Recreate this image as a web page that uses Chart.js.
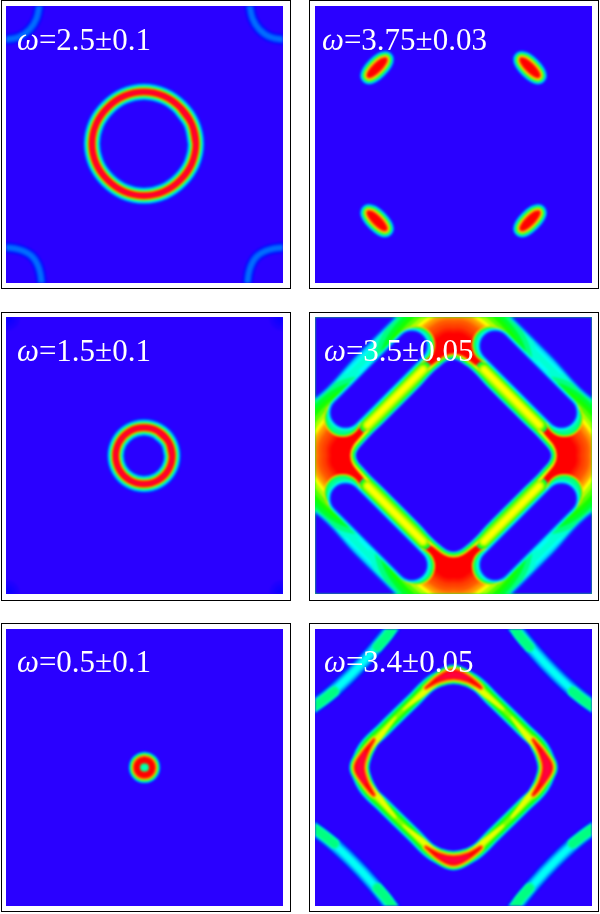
<!DOCTYPE html>
<html><head><meta charset="utf-8">
<script src="https://cdn.jsdelivr.net/npm/chart.js@4"></script>
<style>
html,body{margin:0;padding:0;background:#fff;width:600px;height:914px;overflow:hidden}
.frame{position:absolute;box-sizing:border-box;border:1px solid #000;width:289.5px;height:289px;background:#fff}
.plot{position:absolute;width:277px;height:277px;overflow:hidden}
.plot canvas{display:block;filter:blur(.8px)}
.lab{position:absolute;color:#fff;font:31px "Liberation Serif",serif;white-space:nowrap;line-height:1}
.lab i{font-style:italic}
</style></head><body>
<script>
// Titles
const LABELS=["2.5±0.1","3.75±0.03","1.5±0.1","3.5±0.05","0.5±0.1","3.4±0.05"];

// --- contours, in zone units (-100..100) ---
const RING_25=[[37.1,0.5],[34.1,14.8],[25.8,26.7],[13.9,35],[-0.4,38],[-14.7,35],[-26.6,26.7],[-34.9,14.8],[-37.9,0.5],[-34.9,-13.8],[-26.6,-25.7],[-14.7,-34],[-0.4,-37],[13.9,-34],[25.8,-25.7],[34.1,-13.8],[37.1,0.5],[34.1,14.8],[25.8,26.7]];
const ARC25_NW=[[-103,75.5],[-91,77.5],[-83,83],[-78,91],[-75.5,103]];
const ARC25_NE=[[103,75.5],[91,77.5],[83,83],[78,91],[75.5,103]];
const ARC25_SW=[[-103,-74],[-90,-76],[-81,-81],[-76,-90],[-74,-103]];
const ARC25_SE=[[103,-74],[90,-76],[81,-81],[76,-90],[74,-103]];

const POCKET_NW=[[-48.9,61.8],[-51.95,61.15],[-56.9,57.2],[-60.85,52.25],[-61.5,49.2],[-58.45,49.85],[-53.5,53.8],[-49.55,58.75],[-48.9,61.8],[-51.95,61.15]];
const POCKET_NE=[[48.9,61.8],[51.95,61.15],[56.9,57.2],[60.85,52.25],[61.5,49.2],[58.45,49.85],[53.5,53.8],[49.55,58.75],[48.9,61.8],[51.95,61.15]];
const POCKET_SE=[[61.5,-48.7],[58.45,-49.35],[53.5,-53.3],[49.55,-58.25],[48.9,-61.3],[51.95,-60.65],[56.9,-56.7],[60.85,-51.75],[61.5,-48.7],[58.45,-49.35]];
const POCKET_SW=[[-61.5,-48.7],[-58.45,-49.35],[-53.5,-53.3],[-49.55,-58.25],[-48.9,-61.3],[-51.95,-60.65],[-56.9,-56.7],[-60.85,-51.75],[-61.5,-48.7],[-58.45,-49.35]];

const RING_15=[[20,-0.2],[17.3,10],[9.8,17.5],[-0.4,20.2],[-10.6,17.5],[-18.1,10],[-20.8,-0.2],[-18.1,-10.4],[-10.6,-17.9],[-0.4,-20.6],[9.8,-17.9],[17.3,-10.4],[20,-0.2],[17.3,10],[9.8,17.5]];
const GLOW_NW=[[-100,100],[-99,99]];
const GLOW_NE=[[100,100],[99,99]];
const GLOW_SW=[[-100,-100],[-99,-99]];
const GLOW_SE=[[100,-100],[99,-99]];

const RING_05=[[5.5,0],[3.9,3.9],[0,5.5],[-3.9,3.9],[-5.5,0],[-3.9,-3.9],[0,-5.5],[3.9,-3.9],[5.5,0],[3.9,3.9],[0,5.5]];
const DOT_05=[[-0.3,0],[0.3,0]];

// omega = 3.4
const LOOP_34=[[0,67],[14,62.5],[29,48.5],[51,27],[64,13.5],[68.5,0],[64,-13.5],[51,-27],[29,-48.5],[14,-62.5],[0,-67],[-14,-62.5],[-29,-48.5],[-51,-27],[-64,-13.5],[-68.5,0],[-64,13.5],[-51,27],[-29,48.5],[-14,62.5],[0,67],[14,62.5],[29,48.5]];
const TOP_Y=[[-36,42],[-22,55.5],[-12,63.5],[0,68],[12,63.5],[22,55.5],[36,42],[22,52],[12,60],[0,65],[-12,60],[-22,52],[-36,42]];
const TOP_R=[[-20,57.5],[-10,66],[0,70],[10,66],[20,57.5],[10,62.5],[0,64.5],[-10,62.5],[-20,57.5]];
const TOP_P=[[-11,64],[0,68.5],[11,64],[0,65.5],[-11,64]];
const BOT_Y=[[-36,-42],[-22,-55.5],[-12,-63.5],[0,-68],[12,-63.5],[22,-55.5],[36,-42],[22,-52],[12,-60],[0,-65],[-12,-60],[-22,-52],[-36,-42]];
const BOT_R=[[-20,-57.5],[-10,-66],[0,-70],[10,-66],[20,-57.5],[10,-62.5],[0,-64.5],[-10,-62.5],[-20,-57.5]];
const BOT_P=[[-11,-64],[0,-68.5],[11,-64],[0,-65.5],[-11,-64]];
const RGT_Y=[[42,36],[55.5,22],[63.5,12],[68.5,0],[63.5,-12],[55.5,-22],[42,-36],[52,-22],[60,-12],[65.5,0],[60,12],[52,22],[42,36]];
const RGT_R=[[57.5,20],[66,10],[71,0],[66,-10],[57.5,-20],[62.5,-10],[65,0],[62.5,10],[57.5,20]];
const RGT_P=[[64,11],[69.5,0],[64,-11],[66,0],[64,11]];
const LFT_Y=[[-42,36],[-55.5,22],[-63.5,12],[-68.5,0],[-63.5,-12],[-55.5,-22],[-42,-36],[-52,-22],[-60,-12],[-65.5,0],[-60,12],[-52,22],[-42,36]];
const LFT_R=[[-57.5,20],[-66,10],[-71,0],[-66,-10],[-57.5,-20],[-62.5,-10],[-65,0],[-62.5,10],[-57.5,20]];
const LFT_P=[[-64,11],[-69.5,0],[-64,-11],[-66,0],[-64,11]];
const ARC34_NE=[[42,104],[58.8,83.3],[73.3,67.7],[88.9,53.3],[104,42]];
const ARC34_NW=[[-42,104],[-58.8,83.3],[-73.3,67.7],[-88.9,53.3],[-104,42]];
const ARC34_SE=[[42,-104],[58.8,-83.3],[73.3,-67.7],[88.9,-53.3],[104,-42]];
const ARC34_SW=[[-42,-104],[-58.8,-83.3],[-73.3,-67.7],[-88.9,-53.3],[-104,-42]];
const END34_A=[[42,104],[48,95],[55,87]];
const END34_B=[[86,55],[95,48],[104,42]];
const END34_C=[[-42,104],[-48,95],[-55,87]];
const END34_D=[[-86,55],[-95,48],[-104,42]];
const END34_E=[[42,-104],[48,-95],[55,-87]];
const END34_F=[[86,-55],[95,-48],[104,-42]];
const END34_G=[[-42,-104],[-48,-95],[-55,-87]];
const END34_H=[[-86,-55],[-95,-48],[-104,-42]];

// omega = 3.5
const HOT_T=[[-8,87],[8,87],[25,65],[0,52],[-25,65],[-8,87],[8,87]];
const HOT_B=[[-8,-87],[8,-87],[25,-65],[0,-52],[-25,-65],[-8,-87],[8,-87]];
const HOT_R=[[87,8],[87,-8],[65,-25],[52,0],[65,25],[87,8],[87,-8]];
const HOT_L=[[-87,8],[-87,-8],[-65,-25],[-52,0],[-65,25],[-87,8],[-87,-8]];
const RIDGE_NE=[[22,62],[42,42],[62,22]];
const RIDGE_NW=[[-22,62],[-42,42],[-62,22]];
const RIDGE_SE=[[22,-62],[42,-42],[62,-22]];
const RIDGE_SW=[[-22,-62],[-42,-42],[-62,-22]];
const CAP_A=[[27,80],[27.1,79.9]];
const CAP_B=[[80,27],[79.9,27.1]];
const CAP_C=[[-27,80],[-27.1,79.9]];
const CAP_D=[[-80,27],[-79.9,27.1]];
const CAP_E=[[27,-80],[27.1,-79.9]];
const CAP_F=[[80,-27],[79.9,-27.1]];
const CAP_G=[[-27,-80],[-27.1,-79.9]];
const CAP_H=[[-80,-27],[-79.9,-27.1]];
const LOBE_NE=[[30,79],[54,55],[78,31]];
const LOBE_NW=[[-30,79],[-54,55],[-78,31]];
const LOBE_SE=[[30,-79],[54,-55],[78,-31]];
const LOBE_SW=[[-30,-79],[-54,-55],[-78,-31]];
const BAND_NE=[[28,105],[66.5,66.5],[105,28]];
const BAND_NW=[[-28,105],[-66.5,66.5],[-105,28]];
const BAND_SE=[[28,-105],[66.5,-66.5],[105,-28]];
const BAND_SW=[[-28,-105],[-66.5,-66.5],[-105,-28]];
const TRI_NE=[[42,101.5],[71,72.5],[101,42],[115,42],[115,115],[42,115]];
const TRI_NW=[[-42,101.5],[-71,72.5],[-101,42],[-115,42],[-115,115],[-42,115]];
const TRI_SE=[[42,-101.5],[71,-72.5],[101,-42],[115,-42],[115,-115],[42,-115]];
const TRI_SW=[[-42,-101.5],[-71,-72.5],[-101,-42],[-115,-42],[-115,-115],[-42,-115]];
const EDGE_T=[[-14,61],[0,69],[14,61]];
const EDGE_B=[[-14,-61],[0,-69],[14,-61]];
const EDGE_R=[[61,14],[70,0],[61,-14]];
const EDGE_L=[[-61,14],[-70,0],[-61,-14]];
const DIAMOND_35=[[0,69],[11,63],[25,48.5],[49,24.5],[63.5,10],[70,0],[63.5,-10],[49,-24.5],[25,-48.5],[11,-63],[0,-69],[-11,-63],[-25,-48.5],[-49,-24.5],[-63.5,-10],[-70,0],[-63.5,10],[-49,24.5],[-25,48.5],[-11,63],[0,69],[11,63]];

// --- stroke layers: [hue, line width] ---
const RIDGE_FULL=[[235,19],[225,17.6],[210,16],[195,14.5],[180,13.2],[165,12],[150,11],[130,10.2],[110,9.6],[90,9],[70,8.4],[50,7.8],[30,7],[15,6.4],[0,5.4],[345,2.5]];
const RIDGE_DOT=[[235,18],[225,17],[200,15.5],[175,14.2],[150,13],[125,12],[100,11],[75,10],[55,9.5],[35,8.5],[15,7.5],[0,5.5]];
const RIDGE_FAINT=[[242,11],[235,9.5],[228,8],[220,6],[214,3.5]];
const GLOW=[[247,24],[245,16],[243,9]];
const POCKET_LAYER=[[235,17.5],[222,16.5],[205,15],[190,13.6],[170,12.2],[150,11],[130,9.8],[100,8.6],[75,7.4],[55,6.2],[35,4.8],[15,3.2],[0,1.2]];
const DOT_LAYER=[[150,8],[165,5]];
const LOOP_LAYER=[[235,17],[225,16],[200,14.5],[175,13],[150,11.5],[125,9.5],[105,6.5],[90,3.5]];
const TIP_Y=[[75,3],[65,1]];
const TIP_R=[[235,13],[225,12.5],[200,11.5],[175,10.5],[150,9.5],[125,8.5],[100,7.5],[75,6.5],[55,5.5],[35,4.2],[15,2.5],[0,0.5]];
const TIP_P=[[350,3],[345,1]];
const ARC_LAYER=[[238,16],[228,14.5],[215,13],[195,10],[178,6]];
const ARC_END=[[165,11],[150,8]];
const HOT_LAYER=[[170,98],[150,88],[130,78],[115,70],[100,62],[80,54],[60,46],[45,40],[35,36],[27,30],[20,25],[15,18],[10,11],[5,6],[0,1]];
const RIDGE_LAYER=[[150,17],[125,15],[105,12.5],[85,10],[70,7],[60,4]];
const CAP_LAYER=[[40,38],[60,37],[85,36],[110,35],[135,34],[155,32.5]];
const LOBE_LAYER=[[180,35.5],[205,32.5],[225,30.5],[250,28.6]];
const BAND_LAYER=[[205,19.5],[190,16],[178,11],[170,6]];
const TRI_LAYER=[[190,7],[208,5],[225,3],[250,0.5]];
const EDGE_LAYER=[[40,13],[60,11.5]];
const DIAMOND_LAYER=[[90,10],[130,8],[170,5],[210,2.4],[250,0.5]];

const BACK=250, BACK_35=130;
// frame box, plot box, label position, marks [contour, layers, filled]
const GEOM=[
 {f:[1,0],p:[6,6],l:[17,24]},{f:[309,0],p:[315,6],l:[322,24]},
 {f:[1,312],p:[6,317],l:[17,335]},{f:[309,312],p:[315,317],l:[324,335]},
 {f:[1,623],p:[6,629],l:[17,646]},{f:[309,623],p:[315,629],l:[324,646]}
];
const MARKS=[
 {bg:BACK,m:[[RING_25,RIDGE_FULL],[ARC25_NW,RIDGE_FAINT],[ARC25_NE,RIDGE_FAINT],[ARC25_SW,RIDGE_FAINT],[ARC25_SE,RIDGE_FAINT]]},
 {bg:BACK,m:[[POCKET_NW,POCKET_LAYER,1],[POCKET_NE,POCKET_LAYER,1],[POCKET_SW,POCKET_LAYER,1],[POCKET_SE,POCKET_LAYER,1]]},
 {bg:BACK,m:[[GLOW_NW,GLOW],[GLOW_NE,GLOW],[GLOW_SW,GLOW],[GLOW_SE,GLOW],[RING_15,RIDGE_FULL]]},
 {bg:BACK_35,m:[
  [BAND_NE,BAND_LAYER],[BAND_NW,BAND_LAYER],[BAND_SE,BAND_LAYER],[BAND_SW,BAND_LAYER],
  [HOT_T,HOT_LAYER,1],[HOT_B,HOT_LAYER,1],[HOT_R,HOT_LAYER,1],[HOT_L,HOT_LAYER,1],
  [RIDGE_NE,RIDGE_LAYER],[RIDGE_NW,RIDGE_LAYER],[RIDGE_SE,RIDGE_LAYER],[RIDGE_SW,RIDGE_LAYER],
  [CAP_A,CAP_LAYER],[CAP_B,CAP_LAYER],[CAP_C,CAP_LAYER],[CAP_D,CAP_LAYER],[CAP_E,CAP_LAYER],[CAP_F,CAP_LAYER],[CAP_G,CAP_LAYER],[CAP_H,CAP_LAYER],
  [LOBE_NE,LOBE_LAYER],[LOBE_NW,LOBE_LAYER],[LOBE_SE,LOBE_LAYER],[LOBE_SW,LOBE_LAYER],
  [TRI_NE,TRI_LAYER,1],[TRI_NW,TRI_LAYER,1],[TRI_SE,TRI_LAYER,1],[TRI_SW,TRI_LAYER,1],
  [EDGE_T,EDGE_LAYER],[EDGE_B,EDGE_LAYER],[EDGE_R,EDGE_LAYER],[EDGE_L,EDGE_LAYER],
  [DIAMOND_35,DIAMOND_LAYER,1]]},
 {bg:BACK,m:[[RING_05,RIDGE_DOT],[DOT_05,DOT_LAYER]]},
 {bg:BACK,byLevel:true,m:[
  [ARC34_NE,ARC_LAYER],[ARC34_NW,ARC_LAYER],[ARC34_SE,ARC_LAYER],[ARC34_SW,ARC_LAYER],
  [END34_A,ARC_END],[END34_B,ARC_END],[END34_C,ARC_END],[END34_D,ARC_END],[END34_E,ARC_END],[END34_F,ARC_END],[END34_G,ARC_END],[END34_H,ARC_END],
  [LOOP_34,LOOP_LAYER],
  [TOP_Y,TIP_Y,1],[BOT_Y,TIP_Y,1],[RGT_Y,TIP_Y,1],[LFT_Y,TIP_Y,1],
  [TOP_R,TIP_R,1],[BOT_R,TIP_R,1],[RGT_R,TIP_R,1],[LFT_R,TIP_R,1],
  [TOP_P,TIP_P,1],[BOT_P,TIP_P,1],[RGT_P,TIP_P,1],[LFT_P,TIP_P,1]]}
];

const hue=h=>`hsl(${h},100%,50%)`;
const rank=h=>h>=300?h-360:h;
const backPlugin={id:'back',beforeDraw(c,a,o){const {ctx,chartArea:r}=c;ctx.save();ctx.fillStyle=o.color;ctx.fillRect(r.left,r.top,r.width,r.height);ctx.restore();}};

MARKS.forEach((panel,i)=>{
  const g=GEOM[i];
  const fr=document.createElement('div');fr.className='frame';fr.style.left=g.f[0]+'px';fr.style.top=g.f[1]+'px';document.body.appendChild(fr);
  const pl=document.createElement('div');pl.className='plot';pl.style.left=g.p[0]+'px';pl.style.top=g.p[1]+'px';pl.style.background=hue(panel.bg);document.body.appendChild(pl);
  const cv=document.createElement('canvas');cv.width=277;cv.height=277;cv.style.width='277px';cv.style.height='277px';pl.appendChild(cv);
  const lb=document.createElement('div');lb.className='lab';lb.style.left=g.l[0]+'px';lb.style.top=g.l[1]+'px';lb.innerHTML='<i>ω</i>='+LABELS[i];document.body.appendChild(lb);
  let items=[];
  panel.m.forEach(([pts,layers,filled])=>layers.forEach(([h,w])=>items.push({pts,h,w,filled})));
  if(panel.byLevel) items=items.map((it,k)=>({it,k})).sort((a,b)=>rank(b.it.h)-rank(a.it.h)||a.k-b.k).map(o=>o.it);
  const ds=items.map(({pts,h,w,filled})=>({
    data:pts.map(([x,y])=>({x,y})),showLine:true,pointRadius:0,pointHoverRadius:0,tension:.4,
    borderColor:hue(h),backgroundColor:hue(h),borderWidth:w,borderCapStyle:'round',borderJoinStyle:'round',
    fill:filled?'shape':false,clip:false}));
  new Chart(cv,{type:'scatter',data:{datasets:ds.reverse()},plugins:[backPlugin],options:{
    responsive:false,animation:false,events:[],
    layout:{padding:0},elements:{line:{capBezierPoints:false}},
    plugins:{legend:{display:false},tooltip:{enabled:false},back:{color:hue(panel.bg)}},
    scales:{x:{type:'linear',min:-100,max:100,display:false},y:{type:'linear',min:-100,max:100,display:false}}
  }});
});
</script>
</body></html>
